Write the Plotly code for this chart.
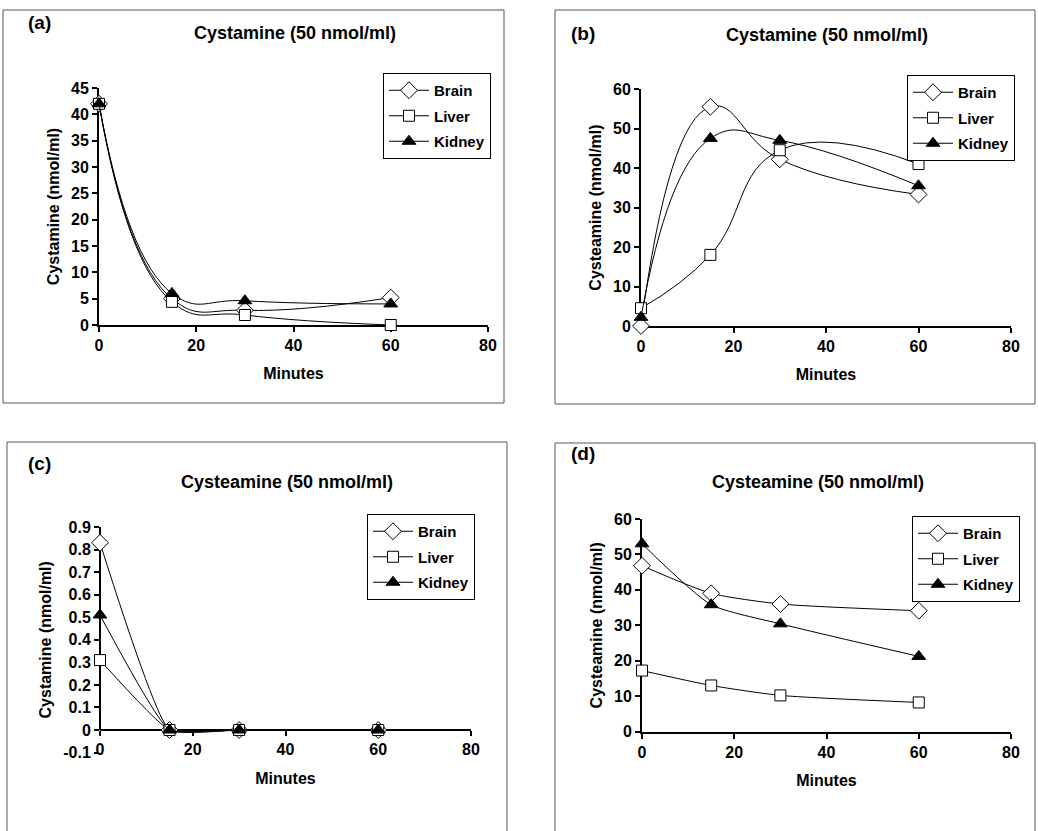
import plotly.graph_objects as go

# ---------------- data ----------------
minutes = [0, 15, 30, 60]

a_brain = [42.0, 5.0, 2.8, 5.2]
a_liver = [42.0, 4.4, 1.9, 0.0]
a_kidney = [42.0, 6.0, 4.6, 4.0]

b_brain = [0.0, 55.5, 42.2, 33.3]
b_liver = [4.5, 18.0, 44.5, 41.0]
b_kidney = [2.2, 47.5, 47.0, 35.5]

c_brain = [0.83, 0.0, 0.0, 0.0]
c_liver = [0.31, 0.0, 0.0, 0.0]
c_kidney = [0.51, 0.0, 0.0, 0.0]

d_brain = [46.8, 39.0, 36.0, 34.1]
d_liver = [17.2, 13.0, 10.2, 8.2]
d_kidney = [53.0, 35.8, 30.4, 21.2]

series_names = ["Brain", "Liver", "Kidney"]
panel_letters = ["(a)", "(b)", "(c)", "(d)"]
panel_titles = ["Cystamine (50 nmol/ml)", "Cystamine (50 nmol/ml)",
                "Cysteamine (50 nmol/ml)", "Cysteamine (50 nmol/ml)"]
y_titles = ["Cystamine (nmol/ml)", "Cysteamine (nmol/ml)",
            "Cystamine (nmol/ml)", "Cysteamine (nmol/ml)"]
x_title = "Minutes"
x_ticks = [0, 20, 40, 60, 80]
c_yticks = [-0.1, 0, 0.1, 0.2, 0.3, 0.4, 0.5, 0.6, 0.7, 0.8, 0.9]
c_yticktext = ["-0.1", "0", "0.1", "0.2", "0.3", "0.4", "0.5", "0.6", "0.7", "0.8", "0.9"]

# ---------------- layout helpers ----------------
W, H = 1038, 831
FONT = "Liberation Sans, Arial, sans-serif"


def px(v):
    return v / W


def py(v):
    return 1 - v / H


fig = go.Figure()

marker_styles = {
    "Brain": dict(symbol="diamond", size=13, color="white", line=dict(color="black", width=1)),
    "Liver": dict(symbol="square", size=11, color="white", line=dict(color="black", width=1)),
    "Kidney": dict(symbol="triangle-up", size=12, color="black", line=dict(color="black", width=1)),
}

panels = [
    (a_brain, a_liver, a_kidney, "x", "y", "legend", 1.3),
    (b_brain, b_liver, b_kidney, "x2", "y2", "legend2", 1.3),
    (c_brain, c_liver, c_kidney, "x3", "y3", "legend3", 0.4),
    (d_brain, d_liver, d_kidney, "x4", "y4", "legend4", 0.6),
]

for pi, (br, lv, kd, xa, ya, lg, sm) in enumerate(panels):
    for name, vals in zip(series_names, [br, lv, kd]):
        fig.add_trace(go.Scatter(
            x=minutes, y=vals, name=name, mode="lines+markers",
            line=dict(color="black", width=1, shape="spline", smoothing=sm),
            marker=marker_styles[name], cliponaxis=False,
            xaxis=xa, yaxis=ya, legend=lg, legendgroup=f"{lg}_{name}",
            hoverinfo="skip",
        ))

tickfont = dict(family=FONT, size=16, color="black", weight="bold")
titlefont = dict(family=FONT, size=16, color="black", weight="bold")


def axis(**kw):
    d = dict(showline=True, linecolor="black", linewidth=2, ticks="outside",
             ticklen=5, tickwidth=1.5, tickcolor="black", showgrid=False,
             zeroline=False, tickfont=tickfont, automargin=False,
             layer="below traces")
    d.update(kw)
    return d


# domains (pixel positions converted to paper)
dom_a_x = [px(99), px(488)]
dom_a_y = [py(325), py(88)]
dom_b_x = [px(641), px(1011)]
dom_b_y = [py(326), py(89)]
dom_c_x = [px(100), px(471)]
dom_c_y = [py(752.6), py(527)]
dom_d_x = [px(642), px(1011)]
dom_d_y = [py(731.5), py(519)]

c_zero = dom_c_y[0] + (0 - (-0.1)) / (0.9 - (-0.1)) * (dom_c_y[1] - dom_c_y[0])

fig.update_layout(
    xaxis=axis(domain=dom_a_x, range=[0, 80], tickvals=x_ticks, anchor="y",
               title=dict(text=x_title, font=titlefont, standoff=15)),
    yaxis=axis(domain=dom_a_y, range=[0, 45], dtick=5, anchor="x",
               title=dict(text=y_titles[0], font=titlefont, standoff=7)),
    xaxis2=axis(domain=dom_b_x, range=[0, 80], tickvals=x_ticks, anchor="y2",
                title=dict(text=x_title, font=titlefont, standoff=15)),
    yaxis2=axis(domain=dom_b_y, range=[0, 60], dtick=10, anchor="x2",
                title=dict(text=y_titles[1], font=titlefont, standoff=7)),
    xaxis3=axis(domain=dom_c_x, range=[0, 80], tickvals=x_ticks, anchor="free",
                position=c_zero,
                title=dict(text=x_title, font=titlefont, standoff=15)),
    yaxis3=axis(domain=dom_c_y, range=[-0.1, 0.9], tickvals=c_yticks,
                ticktext=c_yticktext, anchor="x3", showline=False,
                title=dict(text=y_titles[2], font=titlefont, standoff=7)),
    xaxis4=axis(domain=dom_d_x, range=[0, 80], tickvals=x_ticks, anchor="y4",
                title=dict(text=x_title, font=titlefont, standoff=15)),
    yaxis4=axis(domain=dom_d_y, range=[0, 60], dtick=10, anchor="x4",
                title=dict(text=y_titles[3], font=titlefont, standoff=7)),
)

# y-axis line of panel (c), from 0 upward only
fig.add_shape(type="line", xref="x3 domain", yref="y3", x0=0, x1=0, y0=0, y1=0.9,
              line=dict(color="black", width=2), layer="below")

legend_style = dict(bgcolor="white", bordercolor="black", borderwidth=1,
                    font=dict(family=FONT, size=15, color="black", weight="bold"),
                    xanchor="left", yanchor="top", tracegroupgap=3, itemwidth=40,
                    itemclick=False, itemdoubleclick=False)
fig.update_layout(
    legend=dict(x=px(383), y=py(73), **legend_style),
    legend2=dict(x=px(907), y=py(75), **legend_style),
    legend3=dict(x=px(367), y=py(514), **legend_style),
    legend4=dict(x=px(912), y=py(516), **legend_style),
)

# frames
frames = [(3, 10, 504, 403), (555, 10, 1035, 404), (7, 442, 507, 840), (555, 443, 1035, 840)]
for x0, y0, x1, y1 in frames:
    fig.add_shape(type="rect", xref="paper", yref="paper",
                  x0=px(x0), x1=px(x1), y0=py(y1), y1=py(y0),
                  line=dict(color="#555555", width=1), fillcolor="rgba(0,0,0,0)")

# panel letters and titles
letter_pos = [(26, 23), (569, 33), (26, 463), (569, 453)]
title_pos = [(295, 33), (827, 35), (287, 482), (818, 482)]
for i in range(4):
    lx, ly = letter_pos[i]
    fig.add_annotation(text=panel_letters[i], xref="paper", yref="paper",
                       x=px(lx), y=py(ly), xanchor="left", yanchor="middle",
                       showarrow=False,
                       font=dict(family=FONT, size=19, color="black", weight="bold"))
    tx, ty = title_pos[i]
    fig.add_annotation(text=panel_titles[i], xref="paper", yref="paper",
                       x=px(tx), y=py(ty), xanchor="center", yanchor="middle",
                       showarrow=False,
                       font=dict(family=FONT, size=18, color="black", weight="bold"))

fig.update_layout(
    width=W, height=H, margin=dict(l=0, r=0, t=0, b=0),
    paper_bgcolor="white", plot_bgcolor="white", showlegend=True,
)

fig.write_html(
    "out.html",
    config={"displayModeBar": False},
    post_script="document.body.style.margin='0';document.body.style.overflow='hidden';",
)
